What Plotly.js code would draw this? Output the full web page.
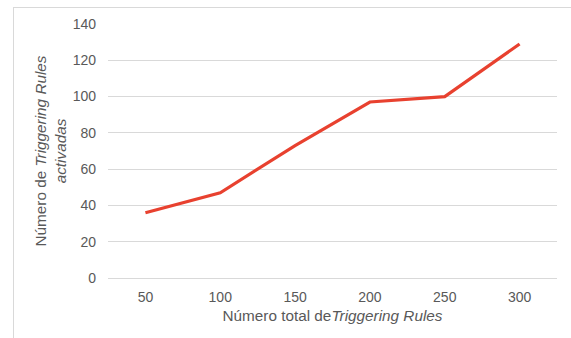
<!DOCTYPE html>
<html>
<head>
<meta charset="utf-8">
<script src="https://cdn.plot.ly/plotly-3.0.1.min.js"></script>
<style>
  html, body { margin: 0; padding: 0; background: #ffffff; }
  #frame { position: absolute; left: 13px; top: 7px; width: 600px; height: 400px;
           border: 1px solid #d9d9d9; box-sizing: border-box; }
  #chart { position: absolute; left: 0; top: 0; width: 571px; height: 338px; }
</style>
</head>
<body>
<div id="frame"></div>
<div id="chart"></div>
<script>
// Total number of triggering rules (categories) and how many were activated
const totalRules = ['50', '100', '150', '200', '250', '300'];
const activatedRules = [36, 47, 73, 97, 100, 129];
const yTicks = [0, 20, 40, 60, 80, 100, 120, 140];

const textGrey = '#595959';
const gridGrey = '#d9d9d9';
const fontFamily = '"Liberation Sans", Arial, sans-serif';

const trace = {
  type: 'scatter',
  mode: 'lines',
  x: totalRules,
  y: activatedRules,
  line: { color: '#e8412f', width: 3.2 },
  hoverinfo: 'x+y'
};

const layout = {
  width: 571,
  height: 338,
  margin: { l: 108, r: 14, t: 24, b: 60 },
  paper_bgcolor: 'rgba(0,0,0,0)',
  plot_bgcolor: 'rgba(0,0,0,0)',
  showlegend: false,
  font: { family: fontFamily, color: textGrey, size: 14 },
  xaxis: {
    type: 'category',
    range: [-0.5, totalRules.length - 0.5],
    showgrid: false,
    showline: false,
    zeroline: false,
    ticks: '',
    ticklabelstandoff: 9,
    tickfont: { size: 14, color: textGrey },
    title: {
      text: 'Número total de<i>Triggering Rules</i>',
      font: { size: 15.3, color: textGrey },
      standoff: 6
    },
    automargin: false
  },
  yaxis: {
    range: [0, 140],
    tickvals: yTicks,
    ticktext: yTicks.map(String),
    showgrid: true,
    gridcolor: gridGrey,
    gridwidth: 1,
    zeroline: true,
    zerolinecolor: gridGrey,
    zerolinewidth: 1,
    showline: false,
    ticks: '',
    ticklabelstandoff: 11,
    tickfont: { size: 14, color: textGrey },
    title: {
      text: 'Número de <i>Triggering Rules</i><br><i>activadas</i>',
      font: { size: 15.3, color: textGrey },
      standoff: 2
    },
    automargin: false,
    fixedrange: true
  }
};

Plotly.newPlot('chart', [trace], layout, { displayModeBar: false, staticPlot: true });
</script>
</body>
</html>
